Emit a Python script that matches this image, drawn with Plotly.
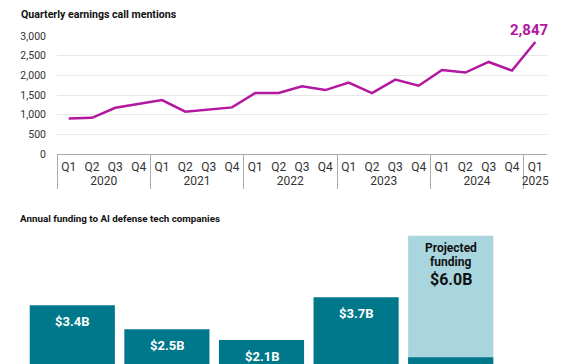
import plotly.graph_objects as go

# ---- Data ----
years = ["2020"] * 4 + ["2021"] * 4 + ["2022"] * 4 + ["2023"] * 4 + ["2024"] * 4 + ["2025"]
quarters = ["Q1", "Q2", "Q3", "Q4"] * 5 + ["Q1"]
mentions = [900, 920, 1175, 1270, 1370, 1075, 1135, 1185, 1550, 1550, 1720, 1625,
            1815, 1550, 1890, 1735, 2135, 2070, 2340, 2120, 2847]
y_ticks = [0, 500, 1000, 1500, 2000, 2500, 3000]

fund_years = ["2021", "2022", "2023", "2024", "2025"]
fund_total = [3.4, 2.5, 2.1, 3.7, 6.0]
fund_so_far = [0, 0, 0, 0, 1.45]

W, H = 572, 364
MAGENTA = "#b3179f"
TEAL = "#00788c"
LIGHT = "#a8d5de"
FONT = "Roboto"

fig = go.Figure()

bar_colors = [TEAL] * 4 + [LIGHT]
fig.add_trace(go.Bar(
    x=fund_years, y=fund_total, width=0.9,
    marker=dict(color=bar_colors, line=dict(width=0)),
    xaxis="x2", yaxis="y2", showlegend=False, hoverinfo="skip",
))
fig.add_trace(go.Bar(
    x=fund_years, y=fund_so_far, width=0.9,
    marker=dict(color=TEAL, line=dict(width=0)),
    xaxis="x2", yaxis="y2", showlegend=False, hoverinfo="skip",
))

fig.add_trace(go.Scatter(
    x=[years, quarters], y=mentions, mode="lines",
    line=dict(color=MAGENTA, width=2.5), xaxis="x", yaxis="y",
    hoverinfo="skip", showlegend=False,
))

annotations = [
    dict(text="<b>Quarterly earnings call mentions</b>", xref="paper", yref="paper",
         x=19 / W, y=1 - 15 / H, xanchor="left", yanchor="middle", showarrow=False,
         font=dict(family=FONT, size=10.6, color="#111")),
    dict(text="<b>Annual funding to AI defense tech companies</b>", xref="paper", yref="paper",
         x=18 / W, y=1 - 218 / H, xanchor="left", yanchor="middle", showarrow=False,
         font=dict(family=FONT, size=9.8, color="#111")),
    dict(text="<b>{:,}</b>".format(mentions[-1]), xref="x", yref="y",
         x=len(mentions) - 1, y=mentions[-1], xanchor="right", yanchor="bottom",
         xshift=15, yshift=1, showarrow=False,
         font=dict(family=FONT, size=15, color=MAGENTA)),
]
for i, v in enumerate(fund_total[:4]):
    annotations.append(dict(
        text="<b>${:.1f}B</b>".format(v), xref="x2", yref="y2", x=i, y=v,
        yanchor="top", yshift=-7, showarrow=False,
        font=dict(family=FONT, size=13, color="white")))
for txt, shift, size in [("Projected", -12, 12), ("funding", -26, 12)]:
    annotations.append(dict(
        text="<b>{}</b>".format(txt), xref="x2", yref="y2", x=4, y=fund_total[4],
        yanchor="middle", yshift=shift, showarrow=False,
        font=dict(family=FONT, size=size, color="#111")))
annotations.append(dict(
    text="<b>${:.1f}B</b>".format(fund_total[4]), xref="x2", yref="y2", x=4, y=fund_total[4],
    yanchor="middle", yshift=-44, showarrow=False,
    font=dict(family=FONT, size=16, color="#111")))
annotations.append(dict(
    text="<b>Funding so far</b>", xref="x2", yref="y2", x=4, y=fund_so_far[4],
    yanchor="top", yshift=-4, showarrow=False,
    font=dict(family=FONT, size=12, color="white")))

fig.update_layout(
    width=W, height=H, margin=dict(l=0, r=0, t=0, b=0),
    paper_bgcolor="white", plot_bgcolor="white",
    font=dict(family=FONT, size=11, color="#333"),
    barmode="overlay", bargap=0.1,
    annotations=annotations,
    xaxis=dict(domain=[57 / W, 547 / W], type="multicategory", showgrid=False,
               range=[-0.5, len(mentions) - 0.5],
               showline=True, linecolor="#aaa", linewidth=1,
               showdividers=True, dividercolor="#aaa", dividerwidth=1,
               ticklabelstandoff=2,
               tickfont=dict(size=12, color="#333"), anchor="y", automargin=False),
    yaxis=dict(domain=[1 - 154 / H, 1 - 36 / H], range=[0, 3000], tickvals=y_ticks,
               tickformat=",", showgrid=True, gridcolor="#e8e8e8", gridwidth=1,
               zeroline=False, showline=False, ticks="", ticklabelstandoff=10,
               tickfont=dict(size=10.5, color="#333"), anchor="x", automargin=False),
    xaxis2=dict(domain=[25 / W, 498 / W], type="category", categoryorder="array",
                categoryarray=fund_years, range=[-0.5, 4.5], showticklabels=False,
                showgrid=False, showline=False, zeroline=False, anchor="y2", automargin=False),
    yaxis2=dict(domain=[0, 1 - 228 / H], range=[(396 - 364) / 26.7, (396 - 228) / 26.7],
                showticklabels=False, showgrid=False, zeroline=False, showline=False,
                anchor="x2", automargin=False),
)

fig.write_html("out.html", config={"displayModeBar": False},
               post_script="document.body.style.margin='0px';")
